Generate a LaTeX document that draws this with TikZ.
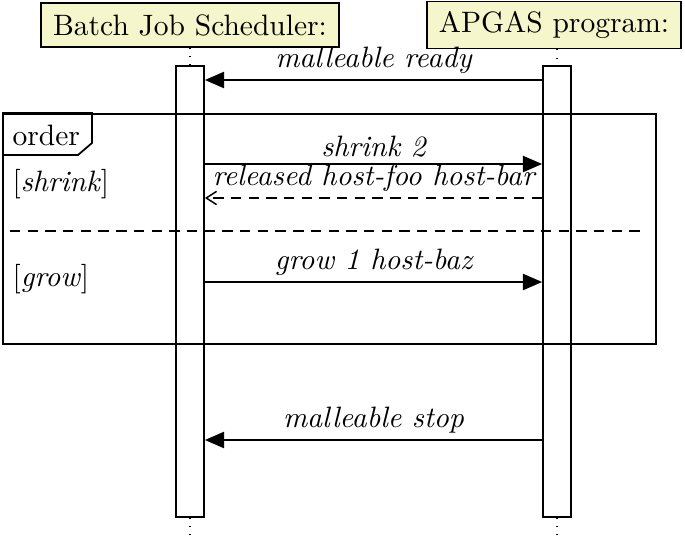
\documentclass[tikz,border=0pt]{standalone}
\usetikzlibrary{arrows.meta}
\definecolor{hdr}{RGB}{246,246,204}
\begin{document}
\begin{tikzpicture}[x=0.339pt,y=-0.339pt,
  hdrbox/.style={draw,fill=hdr,line width=0.6pt,inner xsep=4pt,minimum height=14.9pt},
  actbar/.style={draw,fill=white,line width=0.6pt,minimum width=9.5pt,minimum height=152.9pt,inner sep=0pt},
  lifeline/.style={line width=0.5pt,dash pattern=on 0.4pt off 2.4pt},
  msg/.style={line width=0.5pt,-{Triangle[length=6.5pt,width=5.5pt]}},
  reply/.style={line width=0.5pt,dash pattern=on 3.5pt off 2.5pt,-{Straight Barb[length=3.5pt,width=4.5pt]}},
  lbl/.style={above,inner sep=2pt,font=\itshape},
  framebox/.style={draw,line width=0.8pt,minimum width=221.4pt,minimum height=78pt,inner sep=0pt,anchor=north west}]
\useasboundingbox (0,0) rectangle (685,535);
% activation bars
\node[actbar] (bA) at (190,291.5) {};
\node[actbar] (bB) at (557,291.5) {};
% headers
\node[hdrbox] (hA) at (190,25) {Batch Job Scheduler:};
\node[hdrbox] (hB) at (554,25) {APGAS program:};
% lifelines
\coordinate (eA) at (190,535);
\coordinate (eB) at (557,535);
\draw[lifeline] (hA.south) -- (bA.north);
\draw[lifeline] (bB.north |- hB.south) -- (bB.north);
\draw[lifeline] (bA.south) -- (eA);
\draw[lifeline] (bB.south) -- (eB);
% frame
\node[framebox] (frm) at (2,113) {};
\draw[line width=0.6pt] (frm.north west) -- ++(90,0) -- ++(0,30) -- ++(-14,12) -- (frm.west |- 0,155);
\node[anchor=base west,inner sep=0pt] (tag) at (12,145) {order};
\node[anchor=west,inner sep=0pt] (g1) at (12,184) {[\textit{shrink}]};
\node[anchor=west,inner sep=0pt] (g2) at (12,279) {[\textit{grow}]};
\coordinate (s1) at (10,231);
\coordinate (s2) at (645,231);
\draw[line width=0.5pt,dash pattern=on 3.5pt off 2.5pt] (s1) -- (s2);
% messages
\coordinate (m1) at (0,80);
\coordinate (m2) at (0,164);
\coordinate (m3) at (0,198);
\coordinate (m4) at (0,282);
\coordinate (m5) at (0,440);
\draw[msg] (bB.west |- m1) -- node[lbl] {malleable ready} (bA.east |- m1);
\draw[msg] (bA.east |- m2) -- node[lbl] {shrink 2} (bB.west |- m2);
\draw[reply] (bB.west |- m3) -- node[lbl] {released host-foo host-bar} (bA.east |- m3);
\draw[msg] (bA.east |- m4) -- node[lbl] {grow 1 host-baz} (bB.west |- m4);
\draw[msg] (bB.west |- m5) -- node[lbl] {malleable stop} (bA.east |- m5);
\end{tikzpicture}
\end{document}
